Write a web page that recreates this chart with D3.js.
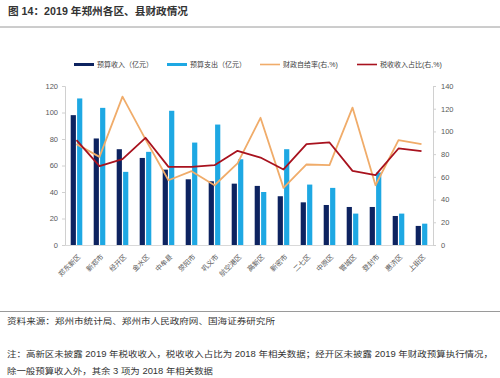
<!DOCTYPE html>
<html>
<head>
<meta charset="utf-8">
<script src="https://cdn.jsdelivr.net/npm/d3@7"></script>
<style>
  html, body { margin: 0; padding: 0; background: #fff; }
  svg { display: block; font-family: "Liberation Sans", Arial, "Noto Sans CJK SC", sans-serif; }
</style>
</head>
<body>
<svg id="chart" width="500" height="378"></svg>
<script>
const categories = ["郑东新区","新郑市","经开区","金水区","中牟县","荥阳市","巩义市","航空港区","高新区","新密市","二七区","中原区","管城区","登封市","惠济区","上街区"];
const budgetRevenue = [98, 80.4, 72.3, 65.7, 56.9, 49.6, 48.1, 46.3, 44.6, 36.8, 32.2, 30.2, 28.7, 28.7, 21.9, 14.4];
const budgetExpenditure = [110.6, 103.5, 55.2, 70.3, 101.3, 77.3, 90.9, 64.7, 40, 72.3, 45.6, 43.1, 23.7, 54.7, 23.7, 16.1];
const selfSufficiency = [88.8, 77.6, 130.6, 93, 57, 65, 52.6, 71.8, 112, 50.3, 70.9, 70.3, 121, 52.6, 92.4, 88.8];
const taxShare = [92.4, 69.4, 75.6, 94.4, 68.8, 68.8, 70.3, 82.9, 77, 66.5, 88.8, 90.3, 65.3, 61.5, 85, 82.6];
const leftTicks = [0, 20, 40, 60, 80, 100, 120];
const rightTicks = [0, 20, 40, 60, 80, 100, 120, 140];
const legendLabels = ["预算收入（亿元）", "预算支出（亿元）", "财政自给率(右,%)", "税收收入占比(右,%)"];
const titleText = "图 14：2019 年郑州各区、县财政情况";
const sourceText = "资料来源：郑州市统计局、郑州市人民政府网、国海证券研究所";
const noteLines = ["注：高新区未披露 2019 年税收收入，税收收入占比为 2018 年相关数据；经开区未披露 2019 年财政预算执行情况，",
                   "除一般预算收入外，其余 3 项为 2018 年相关数据"];

const colors = { rev: "#0d2360", exp: "#1ea8e3", self: "#f0ac6a", tax: "#a8121e" };

const svg = d3.select("#chart");
svg.append("rect").attr("width", 500).attr("height", 378).attr("fill", "#fff");

// Title
svg.append("text").attr("x", 8).attr("y", 15)
  .attr("font-size", 10.5).attr("font-weight", "bold").attr("fill", "#333")
  .attr("textLength", 180).attr("lengthAdjust", "spacingAndGlyphs")
  .text(titleText);
svg.append("line").attr("x1", 0).attr("x2", 500).attr("y1", 27).attr("y2", 27)
  .attr("stroke", "#9a9a9a").attr("stroke-width", 1);

// Plot area
const pLeft = 65, pRight = 433, pTop = 86, pBottom = 245;
const x = d3.scaleBand().domain(categories).range([pLeft, pRight]).paddingInner(0).paddingOuter(0);
const yL = d3.scaleLinear().domain([0, 120]).range([pBottom, pTop]);
const yR = d3.scaleLinear().domain([0, 140]).range([pBottom, pTop]);

const barW = 5.2, gap = 1.2;

// Axes
const axL = svg.append("g").attr("transform", `translate(${pLeft},0)`)
  .call(d3.axisLeft(yL).tickValues(leftTicks).tickSize(3).tickPadding(4));
const axR = svg.append("g").attr("transform", `translate(${pRight},0)`)
  .call(d3.axisRight(yR).tickValues(rightTicks).tickSize(3).tickPadding(5));
[axL, axR].forEach(g => {
  g.selectAll("path, line").attr("stroke", "#d0d0d0");
  g.selectAll("text").attr("font-size", 7.5).attr("fill", "#595959");
});
svg.append("line").attr("x1", pLeft).attr("x2", pRight).attr("y1", pBottom + 0.5).attr("y2", pBottom + 0.5)
  .attr("stroke", "#d9d9d9");

// Bars
svg.append("g").selectAll("rect").data(categories).join("rect")
  .attr("x", d => x(d) + x.bandwidth() / 2 - barW - gap / 2)
  .attr("width", barW)
  .attr("y", (d, i) => yL(budgetRevenue[i]))
  .attr("height", (d, i) => yL(0) - yL(budgetRevenue[i]))
  .attr("fill", colors.rev);
svg.append("g").selectAll("rect").data(categories).join("rect")
  .attr("x", d => x(d) + x.bandwidth() / 2 + gap / 2)
  .attr("width", barW)
  .attr("y", (d, i) => yL(budgetExpenditure[i]))
  .attr("height", (d, i) => yL(0) - yL(budgetExpenditure[i]))
  .attr("fill", colors.exp);

// Lines
const cx = d => x(d) + x.bandwidth() / 2;
const line = arr => d3.line().x(d => cx(d)).y((d, i) => yR(arr[i]));
svg.append("path").datum(categories).attr("d", line(selfSufficiency))
  .attr("fill", "none").attr("stroke", colors.self).attr("stroke-width", 1.8).attr("stroke-linejoin", "round");
svg.append("path").datum(categories).attr("d", line(taxShare))
  .attr("fill", "none").attr("stroke", colors.tax).attr("stroke-width", 1.8).attr("stroke-linejoin", "round");

// X labels
svg.append("g").selectAll("text").data(categories).join("text")
  .attr("transform", d => `translate(${cx(d) + 2.8},${pBottom + 10.5}) rotate(-45)`)
  .attr("text-anchor", "end").attr("dy", "0.35em")
  .attr("font-size", 7).attr("fill", "#595959")
  .text(d => d);

// Legend
const legendItems = [
  { label: legendLabels[0], color: colors.rev, w: 3, x: 74 },
  { label: legendLabels[1], color: colors.exp, w: 3, x: 167 },
  { label: legendLabels[2], color: colors.self, w: 1.6, x: 260 },
  { label: legendLabels[3], color: colors.tax, w: 1.6, x: 357 }
];
const lg = svg.append("g");
legendItems.forEach(it => {
  lg.append("line").attr("x1", it.x).attr("x2", it.x + 20).attr("y1", 64.5).attr("y2", 64.5)
    .attr("stroke", it.color).attr("stroke-width", it.w);
  lg.append("text").attr("x", it.x + 23).attr("y", 64.5).attr("dy", "0.35em")
    .attr("font-size", 7).attr("fill", "#404040").text(it.label);
});

// Footer
svg.append("line").attr("x1", 0).attr("x2", 500).attr("y1", 311.5).attr("y2", 311.5)
  .attr("stroke", "#9a9a9a").attr("stroke-width", 1);
svg.append("text").attr("x", 7).attr("y", 324).attr("font-size", 8.5).attr("fill", "#333")
  .attr("textLength", 268).attr("lengthAdjust", "spacingAndGlyphs").text(sourceText);
svg.append("text").attr("x", 7).attr("y", 357).attr("font-size", 8.5).attr("fill", "#333")
  .attr("textLength", 486).attr("lengthAdjust", "spacingAndGlyphs").text(noteLines[0]);
svg.append("text").attr("x", 7).attr("y", 374).attr("font-size", 8.5).attr("fill", "#333")
  .attr("textLength", 206).attr("lengthAdjust", "spacingAndGlyphs").text(noteLines[1]);
</script>
</body>
</html>
